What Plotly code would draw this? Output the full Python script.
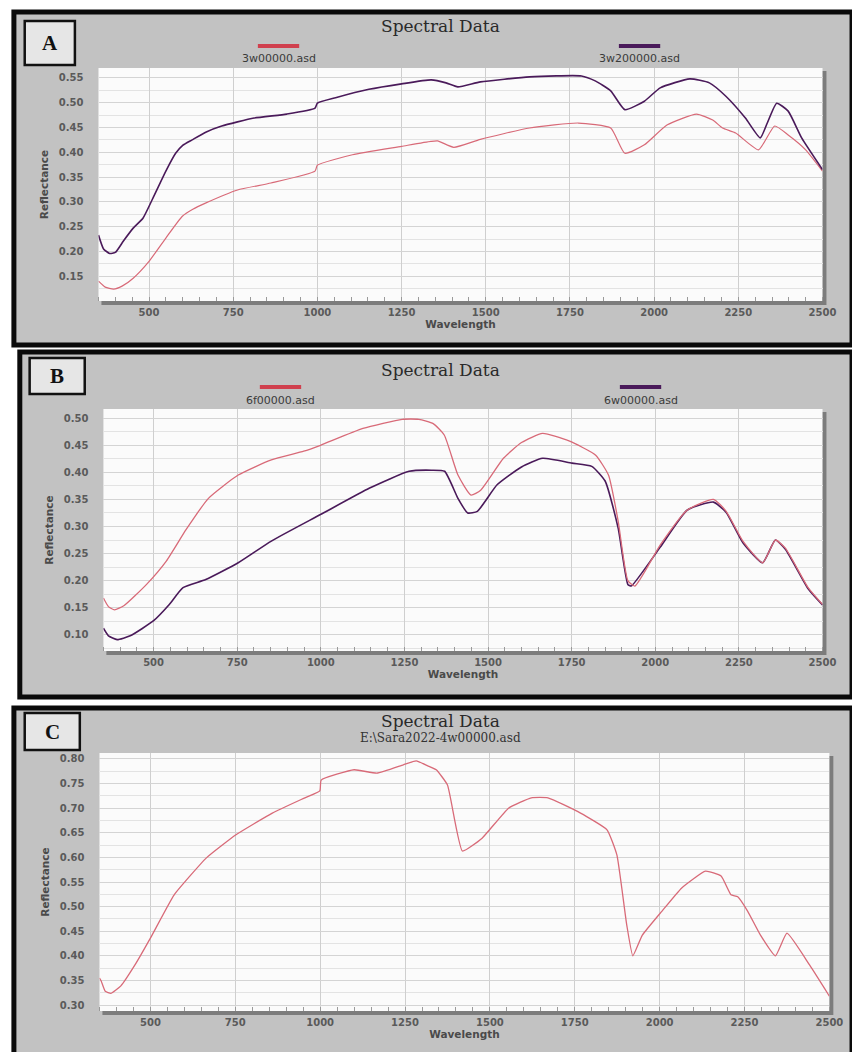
import plotly.graph_objects as go

W, H = 860, 1052

# ---------------- data ----------------
# Panel A
a_red_wl = [350, 370, 395, 420, 453, 500, 550, 599, 630, 666, 763, 862, 993, 1000, 1104, 1250, 1337, 1357, 1405,
            1484, 1630, 1775, 1871, 1913, 1971, 2038, 2126, 2174, 2203, 2242, 2310, 2358, 2398, 2450, 2500]
a_red_val = [0.140, 0.128, 0.124, 0.130, 0.146, 0.180, 0.227, 0.271, 0.285, 0.297, 0.324, 0.338, 0.362, 0.374,
             0.395, 0.412, 0.422, 0.423, 0.410, 0.426, 0.449, 0.459, 0.449, 0.398, 0.415, 0.455, 0.477, 0.465,
             0.449, 0.439, 0.405, 0.453, 0.435, 0.405, 0.362]
a_pur_wl = [350, 365, 383, 400, 424, 453, 482, 512, 550, 579, 600, 628, 670, 716, 812, 909, 993, 1000, 1054,
            1153, 1250, 1338, 1382, 1417, 1484, 1630, 1784, 1825, 1871, 1913, 1971, 2018, 2106, 2164, 2213,
            2271, 2315, 2336, 2364, 2398, 2438, 2500]
a_pur_val = [0.233, 0.205, 0.196, 0.198, 0.221, 0.247, 0.267, 0.308, 0.362, 0.398, 0.414, 0.425, 0.441, 0.453,
             0.469, 0.477, 0.489, 0.499, 0.510, 0.527, 0.538, 0.546, 0.540, 0.532, 0.542, 0.552, 0.554, 0.544,
             0.524, 0.486, 0.503, 0.530, 0.548, 0.540, 0.513, 0.469, 0.429, 0.459, 0.499, 0.483, 0.429, 0.365]

# Panel B
b_red_wl = [350, 365, 383, 412, 479, 538, 597, 664, 753, 852, 949, 999, 1126, 1243, 1293, 1336, 1369, 1410,
            1449, 1478, 1546, 1600, 1663, 1742, 1821, 1860, 1889, 1918, 1939, 2015, 2095, 2174, 2212, 2262, 2321,
            2359, 2389, 2457, 2500]
b_red_val = [0.168, 0.152, 0.146, 0.154, 0.193, 0.236, 0.294, 0.352, 0.395, 0.423, 0.439, 0.450, 0.481, 0.498,
             0.498, 0.490, 0.469, 0.395, 0.358, 0.367, 0.426, 0.455, 0.472, 0.458, 0.432, 0.395, 0.310, 0.200,
             0.190, 0.266, 0.330, 0.350, 0.328, 0.273, 0.233, 0.275, 0.260, 0.187, 0.156]
b_pur_wl = [350, 365, 391, 430, 500, 547, 588, 656, 753, 852, 999, 1146, 1264, 1331, 1370, 1410, 1439, 1468,
            1527, 1600, 1663, 1751, 1810, 1850, 1889, 1918, 1928, 2015, 2095, 2174, 2212, 2262, 2321, 2359, 2389,
            2457, 2500]
b_pur_val = [0.112, 0.098, 0.091, 0.098, 0.126, 0.156, 0.187, 0.202, 0.233, 0.273, 0.322, 0.371, 0.402, 0.404,
             0.402, 0.352, 0.325, 0.328, 0.377, 0.410, 0.426, 0.417, 0.411, 0.384, 0.297, 0.193, 0.190, 0.262,
             0.330, 0.345, 0.326, 0.270, 0.233, 0.275, 0.258, 0.185, 0.155]

# Panel C
c_wl = [350, 355, 367, 384, 413, 454, 500, 570, 665, 752, 859, 955, 999, 1003, 1100, 1167, 1245, 1283, 1317,
        1342, 1375, 1419, 1477, 1555, 1622, 1671, 1767, 1845, 1874, 1903, 1921, 1949, 2007, 2065, 2135, 2181,
        2210, 2230, 2259, 2297, 2341, 2375, 2442, 2500]
c_val = [0.355, 0.349, 0.328, 0.324, 0.339, 0.381, 0.436, 0.524, 0.599, 0.646, 0.690, 0.721, 0.735, 0.757,
         0.778, 0.771, 0.788, 0.796, 0.786, 0.778, 0.747, 0.613, 0.639, 0.700, 0.721, 0.721, 0.690, 0.656,
         0.605, 0.463, 0.400, 0.442, 0.491, 0.538, 0.572, 0.562, 0.524, 0.520, 0.491, 0.442, 0.400, 0.446,
         0.381, 0.318]

x_ticks = [500, 750, 1000, 1250, 1500, 1750, 2000, 2250, 2500]
a_yticks = [0.15, 0.20, 0.25, 0.30, 0.35, 0.40, 0.45, 0.50, 0.55]
b_yticks = [0.10, 0.15, 0.20, 0.25, 0.30, 0.35, 0.40, 0.45, 0.50]
c_yticks = [0.30, 0.35, 0.40, 0.45, 0.50, 0.55, 0.60, 0.65, 0.70, 0.75, 0.80]

names = {"a1": "3w00000.asd", "a2": "3w200000.asd", "b1": "6f00000.asd", "b2": "6w00000.asd",
         "c": "E:\\Sara2022-4w00000.asd"}

RED = "#d0404e"
RED_LIGHT = "#d86a78"
PURPLE = "#4a1a5a"

# ---------------- layout helpers (pixel -> paper) ----------------
def px(x):
    return x / W

def py(y):
    return 1 - y / H

panels = [
    dict(frame=(6, 4, 858, 337), plot=(92, 60, 828, 293), box=(17, 13, 68, 57), letter="A",
         yr=[0.10, 0.57], yt=a_yticks, title_y=18),
    dict(frame=(12, 344, 858, 689), plot=(97, 401, 828, 643), box=(22, 350, 78, 386), letter="B",
         yr=[0.07, 0.517], yt=b_yticks, title_y=362),
    dict(frame=(6, 700, 858, 1047), plot=(93, 745, 835, 1003), box=(17, 705, 73, 742), letter="C",
         yr=[0.288, 0.812], yt=c_yticks, title_y=713),
]

fig = go.Figure()

fig.add_trace(go.Scatter(x=a_red_wl, y=a_red_val, mode="lines", line=dict(color=RED_LIGHT, width=1.2, shape="spline", smoothing=0.5),
                         name=names["a1"], xaxis="x", yaxis="y"))
fig.add_trace(go.Scatter(x=a_pur_wl, y=a_pur_val, mode="lines", line=dict(color=PURPLE, width=1.6, shape="spline", smoothing=0.5),
                         name=names["a2"], xaxis="x", yaxis="y"))
fig.add_trace(go.Scatter(x=b_pur_wl, y=b_pur_val, mode="lines", line=dict(color=PURPLE, width=1.6, shape="spline", smoothing=0.5),
                         name=names["b2"], xaxis="x2", yaxis="y2"))
fig.add_trace(go.Scatter(x=b_red_wl, y=b_red_val, mode="lines", line=dict(color=RED_LIGHT, width=1.3, shape="spline", smoothing=0.5),
                         name=names["b1"], xaxis="x2", yaxis="y2"))
fig.add_trace(go.Scatter(x=c_wl, y=c_val, mode="lines", line=dict(color=RED_LIGHT, width=1.3, shape="spline", smoothing=0.4),
                         name=names["c"], xaxis="x3", yaxis="y3"))

tickfont = dict(family="DejaVu Sans", size=10, color="#5a5a5a", weight="bold")
titlefont = dict(family="DejaVu Sans", size=10.5, color="#4a4a4a", weight="bold")

shapes = []
annotations = []
layout_axes = {}
for i, p in enumerate(panels):
    fx0, fy0, fx1, fy1 = p["frame"]
    x0, y0, x1, y1 = p["plot"]
    bx0, by0, bx1, by1 = p["box"]
    shapes.append(dict(type="rect", xref="paper", yref="paper", x0=px(fx0), x1=px(fx1), y0=py(fy1), y1=py(fy0),
                       fillcolor="#c2c2c2", line=dict(color="#0a0a0a", width=5), layer="below"))
    shapes.append(dict(type="rect", xref="paper", yref="paper", x0=px(x0 + 3), x1=px(x1 + 4), y0=py(y1 + 4),
                       y1=py(y0 + 3), fillcolor="#7c7c7c", line=dict(width=0), layer="below"))
    shapes.append(dict(type="rect", xref="paper", yref="paper", x0=px(x0), x1=px(x1), y0=py(y1), y1=py(y0),
                       fillcolor="#fbfbfb", line=dict(width=0), layer="below"))
    shapes.append(dict(type="rect", xref="paper", yref="paper", x0=px(bx0), x1=px(bx1), y0=py(by1), y1=py(by0),
                       fillcolor="#e6e6e6", line=dict(color="#111111", width=2.5), layer="above"))
    annotations.append(dict(xref="paper", yref="paper", x=px((bx0 + bx1) / 2), y=py((by0 + by1) / 2),
                            text="<b>%s</b>" % p["letter"], showarrow=False,
                            font=dict(family="Liberation Serif", size=21, color="#111111"),
                            xanchor="center", yanchor="middle"))
    annotations.append(dict(xref="paper", yref="paper", x=px(440), y=py(p["title_y"]), text="Spectral Data",
                            showarrow=False, font=dict(family="DejaVu Serif", size=17, color="#2a2a2a"),
                            xanchor="center", yanchor="middle"))

    sfx = "" if i == 0 else str(i + 1)
    layout_axes["xaxis" + sfx] = dict(
        domain=[px(x0), px(x1)], range=[350, 2500], tickvals=x_ticks, ticktext=[str(v) for v in x_ticks],
        showgrid=True, gridcolor="#cfcfcf", gridwidth=1.2, zeroline=False, showline=False,
        ticks="", ticklabelstandoff=4, tickfont=tickfont, anchor="y" + sfx,
        title=dict(text="Wavelength", font=titlefont, standoff=0),
        minor=dict(ticks="inside", dtick=50, tick0=350, ticklen=4, tickcolor="#9a9a9a", showgrid=False),
    )
    layout_axes["yaxis" + sfx] = dict(
        domain=[py(y1), py(y0)], range=p["yr"], tickvals=p["yt"], ticktext=["%.2f" % v for v in p["yt"]],
        showgrid=True, gridcolor="#d4d4d4", gridwidth=1.2, zeroline=False, showline=False,
        ticks="outside", ticklen=12, tickcolor="rgba(0,0,0,0)", tickfont=tickfont, anchor="x" + sfx,
        title=dict(text="Reflectance", font=titlefont, standoff=8),
        minor=dict(dtick=0.025, tick0=0.0, showgrid=True, gridcolor="#e3e3e3", ticks=""),
    )

legend_items = [
    (275, 38, 51, RED, names["a1"]), (642, 38, 51, PURPLE, names["a2"]),
    (277, 379, 392, RED, names["b1"]), (643, 379, 392, PURPLE, names["b2"]),
]
for cx, sy, ty, col, label in legend_items:
    shapes.append(dict(type="line", xref="paper", yref="paper", x0=px(cx - 21), x1=px(cx + 21), y0=py(sy),
                       y1=py(sy), line=dict(color=col, width=4), layer="above"))
    annotations.append(dict(xref="paper", yref="paper", x=px(cx), y=py(ty), text=label, showarrow=False,
                            font=dict(family="DejaVu Sans", size=11, color="#3a3a3a"),
                            xanchor="center", yanchor="middle"))
annotations.append(dict(xref="paper", yref="paper", x=px(440), y=py(730), text=names["c"], showarrow=False,
                        font=dict(family="DejaVu Serif", size=12, color="#333333"),
                        xanchor="center", yanchor="middle"))

fig.update_layout(
    width=W, height=H, margin=dict(l=0, r=0, t=0, b=0),
    paper_bgcolor="white", plot_bgcolor="rgba(0,0,0,0)",
    showlegend=False, shapes=shapes, annotations=annotations,
    **layout_axes,
)

fig.write_html("out.html")
